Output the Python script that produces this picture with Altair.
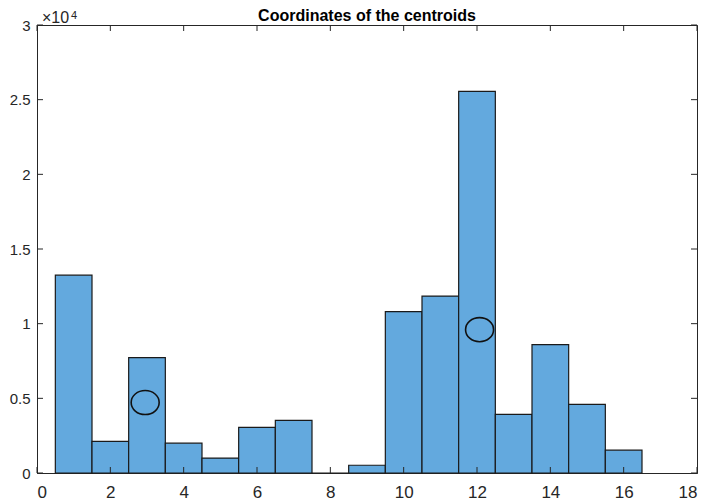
import altair as alt
import pandas as pd

centers = [1, 2, 3, 4, 5, 6, 7, 8, 9, 10, 11, 12, 13, 14, 15, 16]
counts = [13250, 2120, 7720, 2000, 1000, 3050, 3530, 0, 520, 10800, 11850, 25550, 3920, 8600, 4600, 1530]
centroid_x = [2.95, 12.07]
centroid_y = [4720, 9600]
x_ticks = [0, 2, 4, 6, 8, 10, 12, 14, 16, 18]
y_ticks = [0, 5000, 10000, 15000, 20000, 25000, 30000]

W, H = 660, 448
FONT = "Liberation Sans"
AX = "#262626"

bars_df = pd.DataFrame({"c": centers, "n": counts})
cent_df = pd.DataFrame({"x": centroid_x, "y": centroid_y})
xt_df = pd.DataFrame({"v": x_ticks})
yt_df = pd.DataFrame({"v": y_ticks})

xs = alt.Scale(domain=[0, 18], nice=False, zero=False)
ys = alt.Scale(domain=[0, 30000], nice=False)

x_axis = alt.Axis(values=x_ticks, ticks=False, grid=False, domainColor=AX,
                  labelFont=FONT, labelFontSize=17, labelColor=AX, labelPadding=11,
                  title=None)
y_axis = alt.Axis(values=y_ticks, ticks=False, grid=False, domainColor=AX,
                  labelFont=FONT, labelFontSize=15, labelColor=AX, labelPadding=7,
                  labelExpr="datum.value / 10000", title=None)

bars = alt.Chart(bars_df).transform_calculate(
    x0="datum.c - 0.5", x1="datum.c + 0.5"
).mark_rect(fill="#63a9de", stroke="#1a1a1a", strokeWidth=1.2).encode(
    x=alt.X("x0:Q", scale=xs, axis=x_axis),
    x2="x1:Q",
    y=alt.Y("n:Q", scale=ys, axis=y_axis),
    y2=alt.datum(0),
)

ellipse = "M -1 0 A 1 0.86 0 1 1 1 0 A 1 0.86 0 1 1 -1 0 Z"
cents = alt.Chart(cent_df).mark_point(
    shape=ellipse, filled=False, stroke="#111111", strokeWidth=1.6, size=784, opacity=1
).encode(x=alt.X("x:Q", scale=xs), y=alt.Y("y:Q", scale=ys))

xt_bottom = alt.Chart(xt_df).mark_rule(color=AX, strokeWidth=1).encode(
    x=alt.X("v:Q", scale=xs), y=alt.value(H), y2=alt.value(H - 6))
xt_top = alt.Chart(xt_df).mark_rule(color=AX, strokeWidth=1).encode(
    x=alt.X("v:Q", scale=xs), y=alt.value(0), y2=alt.value(6))
yt_left = alt.Chart(yt_df).mark_rule(color=AX, strokeWidth=1).encode(
    y=alt.Y("v:Q", scale=ys), x=alt.value(0), x2=alt.value(6))
yt_right = alt.Chart(yt_df).mark_rule(color=AX, strokeWidth=1).encode(
    y=alt.Y("v:Q", scale=ys), x=alt.value(W), x2=alt.value(W - 6))

title = alt.Chart(pd.DataFrame({"t": ["Coordinates of the centroids"]})).mark_text(
    font=FONT, fontSize=16, fontWeight="bold", color="#000000", baseline="middle", align="center"
).encode(text="t:N", x=alt.value(W / 2), y=alt.value(-9))

exp_base = alt.Chart(pd.DataFrame({"t": ["\u00d710"]})).mark_text(
    font=FONT, fontSize=16, color=AX, baseline="alphabetic", align="left"
).encode(text="t:N", x=alt.value(5), y=alt.value(-2))
exp_sup = alt.Chart(pd.DataFrame({"t": ["4"]})).mark_text(
    font=FONT, fontSize=11, color=AX, baseline="alphabetic", align="left"
).encode(text="t:N", x=alt.value(34), y=alt.value(-6))

chart = alt.layer(bars, cents, xt_bottom, xt_top, yt_left, yt_right, title, exp_base, exp_sup).properties(
    width=W, height=H,
    autosize=alt.AutoSizeParams(type="none"),
    padding={"left": 29, "top": 17, "right": 3, "bottom": 30},
    background="white",
).configure_view(stroke=AX, strokeWidth=1)

chart.save("out.html", embed_options={"renderer": "svg", "actions": False})
